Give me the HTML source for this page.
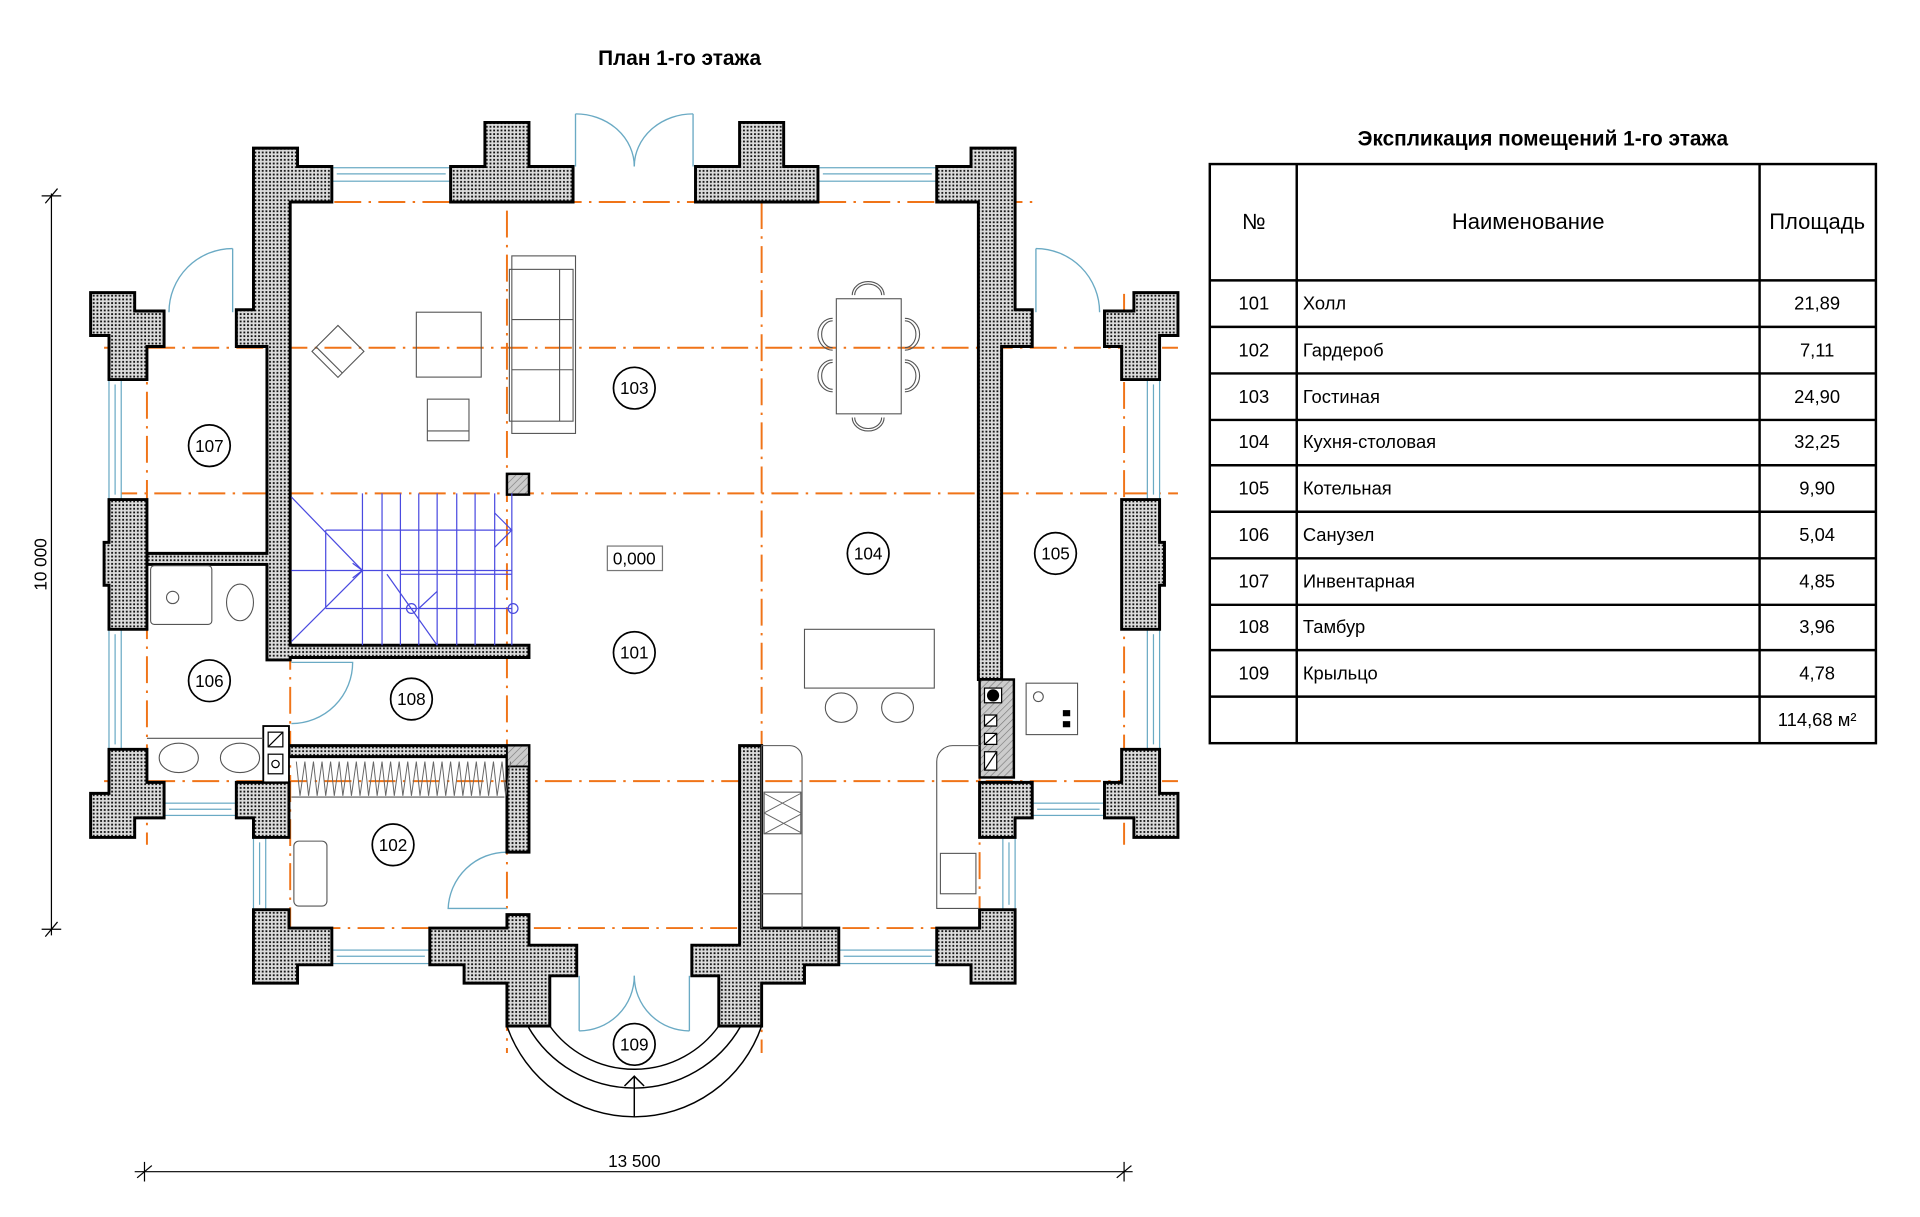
<!DOCTYPE html>
<html><head><meta charset="utf-8"><style>
html,body{margin:0;padding:0;background:#fff;width:1920px;height:1217px;overflow:hidden}
svg{display:block}
text{font-family:"Liberation Sans",sans-serif;fill:#000}
</style></head><body>
<svg width="1920" height="1217" viewBox="0 0 1568 994" preserveAspectRatio="none" xmlns="http://www.w3.org/2000/svg">
<defs>
<pattern id="dot" width="3" height="3" patternUnits="userSpaceOnUse">
<rect width="3" height="3" fill="#dcdcdc"/><rect x="0.8" y="0.8" width="1.5" height="1.5" fill="#111"/>
</pattern>
<pattern id="hat" width="4" height="4" patternUnits="userSpaceOnUse" patternTransform="rotate(45)">
<rect width="4" height="4" fill="#ccc"/><line x1="0" y1="0" x2="0" y2="4" stroke="#777" stroke-width="1"/>
</pattern>
</defs>

<text x="555" y="53" font-size="17" font-weight="bold" text-anchor="middle">План 1-го этажа</text>

<g stroke="#f07418" stroke-width="1.6" stroke-dasharray="22,6,2,6" fill="none">
<line x1="237" y1="165" x2="843" y2="165"/>
<line x1="85" y1="284" x2="962" y2="284"/>
<line x1="90" y1="403" x2="962" y2="403"/>
<line x1="85" y1="638" x2="962" y2="638"/>
<line x1="220" y1="758" x2="800" y2="758"/>
<line x1="120" y1="284" x2="120" y2="690"/>
<line x1="237" y1="165" x2="237" y2="800"/>
<line x1="414" y1="100" x2="414" y2="860"/>
<line x1="622" y1="165" x2="622" y2="860"/>
<line x1="800" y1="120" x2="800" y2="800"/>
<line x1="918" y1="240" x2="918" y2="690"/>
</g>

<g stroke="#6aaac4" stroke-width="1" fill="#fff">
<rect x="271" y="137" width="97" height="11"/><line x1="275" y1="142" x2="364" y2="142"/>
<rect x="668" y="137" width="97" height="11"/><line x1="672" y1="142" x2="761" y2="142"/>
<rect x="89" y="310" width="10" height="98"/><line x1="94" y1="314" x2="94" y2="404"/>
<rect x="89" y="514" width="10" height="98"/><line x1="94" y1="518" x2="94" y2="608"/>
<rect x="937" y="310" width="10" height="98"/><line x1="942" y1="314" x2="942" y2="404"/>
<rect x="937" y="514" width="10" height="98"/><line x1="942" y1="518" x2="942" y2="608"/>
<rect x="134" y="656" width="59" height="10"/><line x1="138" y1="661" x2="189" y2="661"/>
<rect x="843" y="656" width="59" height="10"/><line x1="847" y1="661" x2="898" y2="661"/>
<rect x="207" y="684" width="10" height="59"/><line x1="212" y1="688" x2="212" y2="739"/>
<rect x="819" y="684" width="10" height="59"/><line x1="824" y1="688" x2="824" y2="739"/>
<rect x="271" y="776" width="80" height="11"/><line x1="275" y1="781" x2="347" y2="781"/>
<rect x="685" y="776" width="80" height="11"/><line x1="689" y1="781" x2="761" y2="781"/>
</g>

<g stroke="#6aaac4" stroke-width="1.1" fill="none">
<line x1="470" y1="93" x2="470" y2="136"/><path d="M470,93 A48,43 0 0 1 518,136"/>
<line x1="566" y1="93" x2="566" y2="136"/><path d="M566,93 A48,43 0 0 0 518,136"/>
<line x1="190" y1="203" x2="190" y2="255"/><path d="M190,203 A52,52 0 0 0 138,255"/>
<line x1="846" y1="203" x2="846" y2="255"/><path d="M846,203 A52,52 0 0 1 898,255"/>
<line x1="473" y1="797" x2="473" y2="842"/><path d="M473,842 A45,45 0 0 0 518,797"/>
<line x1="563" y1="797" x2="563" y2="842"/><path d="M563,842 A45,45 0 0 1 518,797"/>
<path d="M238,541 L288,541 A50,50 0 0 1 238,591"/>
<path d="M414,742 L366,742 A48,48 0 0 1 414,696"/>
</g>

<g fill="url(#dot)" stroke="#000" stroke-width="2.4" stroke-linejoin="miter">
<polygon points="207,121 243,121 243,136 271,136 271,165 237,165 237,527 432,527 432,537 237,537 237,539 218,539 218,461 120,461 120,452 218,452 218,283 193,283 193,253 207,253"/>
<polygon points="829,121 793,121 793,136 765,136 765,165 799,165 799,555 818,555 818,283 843,283 843,253 829,253"/>
<polygon points="74,239 110,239 110,254 134,254 134,283 120,283 120,310 89,310 89,274 74,274"/>
<polygon points="962,239 926,239 926,254 902,254 902,283 916,283 916,310 947,310 947,274 962,274"/>
<polygon points="89,408 120,408 120,514 89,514 89,478 85,478 85,443 89,443"/>
<polygon points="947,408 916,408 916,514 947,514 947,478 951,478 951,443 947,443"/>
<polygon points="89,612 120,612 120,639 134,639 134,668 110,668 110,684 74,684 74,648 89,648"/>
<polygon points="947,612 916,612 916,639 902,639 902,668 926,668 926,684 962,684 962,648 947,648"/>
<polygon points="193,639 236,639 236,684 207,684 207,668 193,668"/>
<polygon points="843,639 800,639 800,684 829,684 829,668 843,668"/>
<polygon points="368,136 396,136 396,100 432,100 432,136 468,136 468,165 368,165"/>
<polygon points="668,136 640,136 640,100 604,100 604,136 568,136 568,165 668,165"/>
<polygon points="236,609 432,609 432,696 414,696 414,618 236,618"/>
<polygon points="207,743 236,743 236,758 271,758 271,788 243,788 243,803 207,803"/>
<polygon points="829,743 800,743 800,758 765,758 765,788 793,788 793,803 829,803"/>
<polygon points="351,758 414,758 414,747 432,747 432,772 471,772 471,797 449,797 449,838 414,838 414,803 379,803 379,788 351,788"/>
<polygon points="685,758 622,758 622,609 604,609 604,772 565,772 565,797 587,797 587,838 622,838 622,803 657,803 657,788 685,788"/>
</g>
<rect x="414" y="387" width="18" height="17" fill="url(#hat)" stroke="#000" stroke-width="2"/>
<rect x="414" y="609" width="18" height="17" fill="url(#hat)" stroke="#000" stroke-width="1.5"/>

<g stroke="#000" fill="#fff">
<rect x="215" y="593" width="21" height="46" stroke-width="1.5"/>
<rect x="219" y="598" width="12" height="12" stroke-width="1"/><line x1="219" y1="610" x2="231" y2="598" stroke-width="1"/>
<rect x="219" y="616" width="12" height="16" stroke-width="1"/><circle cx="225" cy="624" r="3" stroke-width="1"/>
<rect x="800" y="555" width="28" height="80" fill="url(#hat)" stroke-width="2"/>
<rect x="804" y="562" width="14" height="12" stroke-width="1"/><circle cx="811" cy="568" r="4.5" fill="#000"/>
<rect x="804" y="584" width="10" height="9" stroke-width="1"/><line x1="804" y1="593" x2="814" y2="584" stroke-width="1"/>
<rect x="804" y="599" width="10" height="9" stroke-width="1"/><line x1="804" y1="608" x2="814" y2="599" stroke-width="1"/>
<rect x="804" y="614" width="10" height="15" stroke-width="1"/><line x1="804" y1="629" x2="814" y2="614" stroke-width="1"/>
</g>

<g stroke="#555" stroke-width="0.9" fill="none">
<rect x="418" y="209" width="52" height="145"/><rect x="416" y="220" width="52" height="124"/>
<line x1="457" y1="220" x2="457" y2="344"/><line x1="418" y1="261" x2="468" y2="261"/><line x1="418" y1="302" x2="468" y2="302"/>
<rect x="340" y="255" width="53" height="53"/>
<g transform="rotate(45 276 287)"><rect x="261" y="272" width="30" height="30"/><line x1="261" y1="297" x2="291" y2="297"/></g>
<rect x="349" y="326" width="34" height="34"/><line x1="349" y1="352" x2="383" y2="352"/>
<rect x="683" y="244" width="53" height="94"/>
<path d="M698,241 a11,9 0 0 1 22,0"/><path d="M696,241 a13,11 0 0 1 26,0"/>
<path d="M698,341 a11,9 0 0 0 22,0"/><path d="M696,341 a13,11 0 0 0 26,0"/>
<path d="M680,262 a9,11 0 0 0 0,22"/><path d="M680,260 a12,13 0 0 0 0,26"/>
<path d="M680,296 a9,11 0 0 0 0,22"/><path d="M680,294 a12,13 0 0 0 0,26"/>
<path d="M739,262 a9,11 0 0 1 0,22"/><path d="M739,260 a12,13 0 0 1 0,26"/>
<path d="M739,296 a9,11 0 0 1 0,22"/><path d="M739,294 a12,13 0 0 1 0,26"/>
<rect x="657" y="514" width="106" height="48"/>
<ellipse cx="687" cy="578" rx="13" ry="12"/><ellipse cx="733" cy="578" rx="13" ry="12"/>
<path d="M622,758 L622,609 L645,609 A10,10 0 0 1 655,619 L655,758"/>
<rect x="624" y="647" width="30" height="34"/><line x1="622" y1="730" x2="655" y2="730"/>
<path d="M800,742 L765,742 L765,622 A13,13 0 0 1 778,609 L800,609"/>
<rect x="768" y="697" width="29" height="33"/>
<rect x="838" y="558" width="42" height="42"/><circle cx="848" cy="569" r="4"/>
<rect x="123" y="462" width="50" height="48" rx="3"/><circle cx="141" cy="488" r="5"/>
<ellipse cx="196" cy="492" rx="11" ry="15"/>
<line x1="120" y1="603" x2="215" y2="603"/>
<ellipse cx="146" cy="619" rx="16" ry="12"/><ellipse cx="196" cy="619" rx="16" ry="12"/>
<rect x="240" y="687" width="27" height="53" rx="4"/>
<line x1="238" y1="651" x2="412" y2="651"/>
</g>
<g fill="#000"><rect x="868" y="580" width="6" height="5"/><rect x="868" y="589" width="6" height="5"/></g>
<g stroke="#666" stroke-width="0.8" fill="none">
<path d="M242,622 l3,28 l4,-28 l3,28 l4,-28 l3,28 l4,-28 l3,28 l4,-28 l3,28 l4,-28 l3,28 l4,-28 l3,28 l4,-28 l3,28 l4,-28 l3,28 l4,-28 l3,28 l4,-28 l3,28 l4,-28 l3,28 l4,-28 l3,28 l4,-28 l3,28 l4,-28 l3,28 l4,-28 l3,28 l4,-28 l3,28 l4,-28 l3,28 l4,-28 l3,28 l4,-28 l3,28 l4,-28 l3,28 l4,-28 l3,28 l4,-28 l3,28 l4,-28 l3,28 l4,-28 l3,28 l4,-28"/>
<path d="M624,648 l30,16 M624,664 l30,-16 M624,681 l30,-16 M624,664 l30,16"/>
</g>

<g stroke="#4a4ae0" stroke-width="1" fill="none">
<line x1="296" y1="403" x2="296" y2="527"/><line x1="312" y1="403" x2="312" y2="527"/>
<line x1="327" y1="403" x2="327" y2="527"/><line x1="342" y1="403" x2="342" y2="527"/>
<line x1="357" y1="403" x2="357" y2="527"/><line x1="373" y1="403" x2="373" y2="527"/>
<line x1="388" y1="403" x2="388" y2="527"/><line x1="404" y1="403" x2="404" y2="527"/>
<line x1="418" y1="403" x2="418" y2="527"/>
<line x1="266" y1="433" x2="418" y2="433"/><line x1="238" y1="466" x2="418" y2="466"/>
<line x1="327" y1="469" x2="418" y2="469"/><line x1="266" y1="497" x2="418" y2="497"/>
<line x1="266" y1="433" x2="266" y2="497"/>
<line x1="238" y1="406" x2="296" y2="466"/><line x1="296" y1="466" x2="238" y2="524"/>
<line x1="316" y1="469" x2="357" y2="527"/><line x1="342" y1="497" x2="357" y2="483"/>
<path d="M404,419 L418,433 L404,447"/><path d="M288,460 L296,466 L288,472"/>
<circle cx="336" cy="497" r="4"/><circle cx="419" cy="497" r="4"/>
</g>

<g stroke="#000" stroke-width="1.2" fill="none">
<path d="M414,838 A110,110 0 0 0 622,838"/>
<path d="M431,838 A100,100 0 0 0 605,838"/>
<path d="M449,838 A85,85 0 0 0 587,838"/>
<line x1="518" y1="912" x2="518" y2="879"/><path d="M510,887 L518,879 L526,887"/>
</g>

<g stroke="#000" stroke-width="1.4" fill="#fff">
<circle cx="518" cy="317" r="17"/><circle cx="171" cy="364" r="17"/>
<circle cx="709" cy="452" r="17"/><circle cx="862" cy="452" r="17"/>
<circle cx="518" cy="533" r="17"/><circle cx="171" cy="556" r="17"/>
<circle cx="336" cy="571" r="17"/><circle cx="321" cy="690" r="17"/>
<circle cx="518" cy="853" r="17"/>
</g>
<rect x="496" y="446" width="45" height="20" fill="#fff" stroke="#777" stroke-width="1"/>
<g font-size="14" text-anchor="middle">
<text x="518" y="322">103</text><text x="171" y="369">107</text>
<text x="709" y="457">104</text><text x="862" y="457">105</text>
<text x="518" y="538">101</text><text x="171" y="561">106</text>
<text x="336" y="576">108</text><text x="321" y="695">102</text>
<text x="518" y="858">109</text><text x="518" y="461">0,000</text>
</g>

<g stroke="#000" stroke-width="1">
<line x1="42" y1="158" x2="42" y2="764"/><line x1="34" y1="160" x2="50" y2="160"/><line x1="34" y1="759" x2="50" y2="759"/>
<line x1="37" y1="166" x2="47" y2="154"/><line x1="37" y1="765" x2="47" y2="753"/>
<line x1="110" y1="957" x2="925" y2="957"/><line x1="118" y1="949" x2="118" y2="965"/><line x1="918" y1="949" x2="918" y2="965"/>
<line x1="112" y1="962" x2="124" y2="952"/><line x1="912" y1="962" x2="924" y2="952"/>
</g>
<text x="38" y="461" font-size="14" text-anchor="middle" transform="rotate(-90 38 461)">10 000</text>
<text x="518" y="953" font-size="14" text-anchor="middle">13 500</text>

<text x="1260" y="119" font-size="17" font-weight="bold" text-anchor="middle">Экспликация помещений 1-го этажа</text>
<g stroke="#000" stroke-width="2" fill="none">
<rect x="988" y="134" width="544" height="473"/>
<line x1="1059" y1="134" x2="1059" y2="607"/><line x1="1437" y1="134" x2="1437" y2="607"/>
<line x1="988" y1="229" x2="1532" y2="229"/><line x1="988" y1="267" x2="1532" y2="267"/>
<line x1="988" y1="305" x2="1532" y2="305"/><line x1="988" y1="343" x2="1532" y2="343"/>
<line x1="988" y1="380" x2="1532" y2="380"/><line x1="988" y1="418" x2="1532" y2="418"/>
<line x1="988" y1="456" x2="1532" y2="456"/><line x1="988" y1="494" x2="1532" y2="494"/>
<line x1="988" y1="531" x2="1532" y2="531"/><line x1="988" y1="569" x2="1532" y2="569"/>
</g>
<g font-size="18" text-anchor="middle">
<text x="1024" y="187">№</text><text x="1248" y="187">Наименование</text><text x="1484" y="187">Площадь</text>
</g>
<g font-size="15">
<g text-anchor="middle">
<text x="1024" y="253">101</text><text x="1024" y="291">102</text><text x="1024" y="329">103</text>
<text x="1024" y="366">104</text><text x="1024" y="404">105</text><text x="1024" y="442">106</text>
<text x="1024" y="480">107</text><text x="1024" y="517">108</text><text x="1024" y="555">109</text>
<text x="1484" y="253">21,89</text><text x="1484" y="291">7,11</text><text x="1484" y="329">24,90</text>
<text x="1484" y="366">32,25</text><text x="1484" y="404">9,90</text><text x="1484" y="442">5,04</text>
<text x="1484" y="480">4,85</text><text x="1484" y="517">3,96</text><text x="1484" y="555">4,78</text>
<text x="1484" y="593">114,68 м²</text>
</g>
<text x="1064" y="253">Холл</text><text x="1064" y="291">Гардероб</text><text x="1064" y="329">Гостиная</text>
<text x="1064" y="366">Кухня-столовая</text><text x="1064" y="404">Котельная</text><text x="1064" y="442">Санузел</text>
<text x="1064" y="480">Инвентарная</text><text x="1064" y="517">Тамбур</text><text x="1064" y="555">Крыльцо</text>
</g>
</svg>
</body></html>
